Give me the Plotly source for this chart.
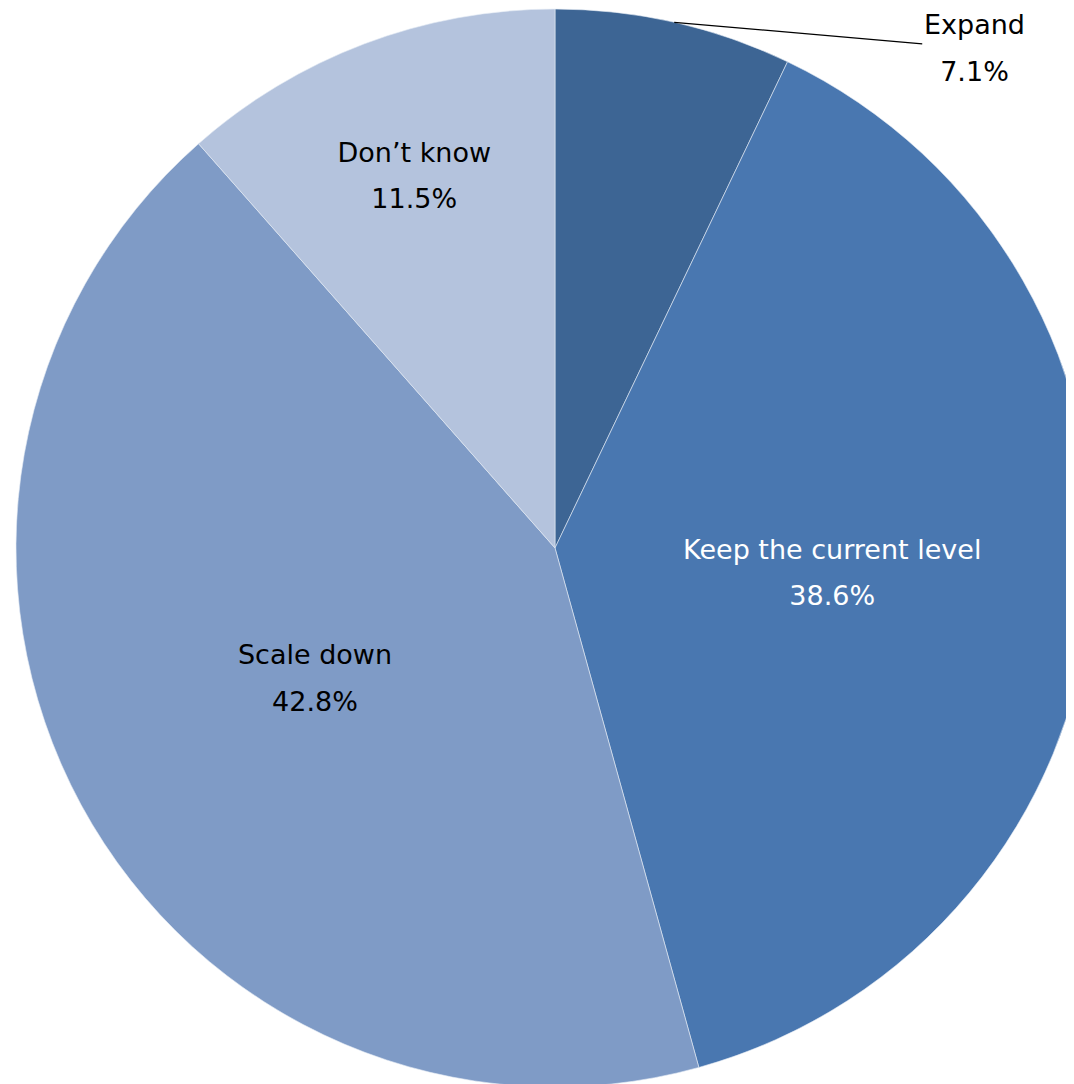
import math
import plotly.graph_objects as go

categories = ["Expand", "Keep the current level", "Scale down", "Don\u2019t know"]
values = [7.1, 38.6, 42.8, 11.5]
colors = ["#3D6594", "#4977B0", "#7F9BC6", "#B4C3DD"]
text_colors = ["#000000", "#FFFFFF", "#000000", "#000000"]
positions = ["none", "inside", "inside", "inside"]

W, H = 1090, 1084
FONT = "DejaVu Sans, Verdana, sans-serif"
FS = 27          # glyph size
LINE_FS = 36     # sets line spacing (1.3em)

# pie placement in figure pixels
CX, CY, R = 547, 540, 539


def two_line(a, b):
    return (f"<span style='font-size:{FS}px'>{a}</span><br>"
            f"<span style='font-size:{FS}px'>{b}</span>")


labels_text = [two_line(c, f"{v:.1f}%") for c, v in zip(categories, values)]

fig = go.Figure(go.Pie(
    labels=categories,
    values=values,
    text=labels_text,
    textinfo="text",
    textposition=positions,
    insidetextorientation="horizontal",
    sort=False,
    direction="clockwise",
    rotation=0,
    marker=dict(colors=colors, line=dict(color="#E6ECF5", width=0.6)),
    textfont=dict(family=FONT, size=LINE_FS, color=text_colors),
    domain=dict(x=[(CX - R) / W, (CX + R) / W],
                y=[1 - (CY + R) / H, 1 - (CY - R) / H]),
    showlegend=False,
    hoverinfo="label+percent",
))

# leader line for the small first slice, from the slice's mid-angle on the rim
total = sum(values)
mid = (values[0] / 2) / total * 2 * math.pi
tip_x = (CX + R * math.sin(mid)) / W
tip_y = 1 - (CY - R * math.cos(mid)) / H

fig.add_annotation(
    x=tip_x, y=tip_y, xref="paper", yref="paper",
    text=labels_text[0],
    showarrow=True, arrowhead=0, arrowwidth=1.2, arrowcolor="#000000",
    ax=300, ay=26,
    font=dict(family=FONT, size=LINE_FS, color="#000000"),
    align="center",
)

fig.update_layout(
    width=W, height=H,
    margin=dict(l=0, r=0, t=0, b=0),
    paper_bgcolor="#FFFFFF",
    plot_bgcolor="#FFFFFF",
)

fig.write_html("out.html")
